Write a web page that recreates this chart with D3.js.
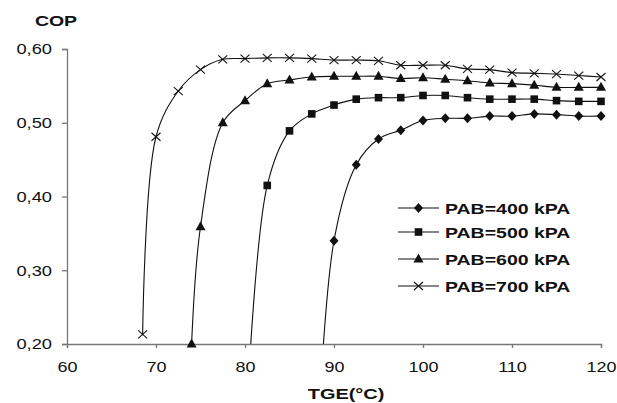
<!DOCTYPE html>
<html>
<head>
<meta charset="utf-8">
<title>COP vs TGE</title>
<style>
  body { margin: 0; background: #fff; }
  text { font-family: "Liberation Sans", Arial, sans-serif; fill: #111; }
</style>
</head>
<body>
<script src="https://d3js.org/d3.v7.min.js"></script>
<script>
// ---- data ----
var seriesNames = ["PAB=400 kPA", "PAB=500 kPA", "PAB=600 kPA", "PAB=700 kPA"];
var markerTypes = ["diamond", "square", "triangle", "cross"];

var tge400 = [88, 90, 92.5, 95, 97.5, 100, 102.5, 105, 107.5, 110, 112.5, 115, 117.5, 120];
var cop400 = [0.03, 0.340, 0.443, 0.478, 0.490, 0.503, 0.506, 0.506, 0.509, 0.509, 0.512, 0.511, 0.509, 0.509];

var tge500 = [80, 82.5, 85, 87.5, 90, 92.5, 95, 97.5, 100, 102.5, 105, 107.5, 110, 112.5, 115, 117.5, 120];
var cop500 = [0.06, 0.415, 0.489, 0.512, 0.524, 0.532, 0.534, 0.534, 0.537, 0.537, 0.534, 0.532, 0.532, 0.532, 0.530, 0.529, 0.529];

var tge600 = [74, 75, 77.5, 80, 82.5, 85, 87.5, 90, 92.5, 95, 97.5, 100, 102.5, 105, 107.5, 110, 112.5, 115, 117.5, 120];
var cop600 = [0.200, 0.359, 0.500, 0.530, 0.553, 0.558, 0.562, 0.563, 0.563, 0.563, 0.560, 0.561, 0.559, 0.557, 0.554, 0.553, 0.551, 0.548, 0.548, 0.548];

var tge700 = [68.5, 70, 72.5, 75, 77.5, 80, 82.5, 85, 87.5, 90, 92.5, 95, 97.5, 100, 102.5, 105, 107.5, 110, 112.5, 115, 117.5, 120];
var cop700 = [0.213, 0.481, 0.543, 0.572, 0.586, 0.587, 0.588, 0.588, 0.587, 0.585, 0.585, 0.584, 0.578, 0.578, 0.578, 0.573, 0.572, 0.568, 0.567, 0.566, 0.564, 0.562];

var xTicks = [60, 70, 80, 90, 100, 110, 120];
var yTicks = [0.2, 0.3, 0.4, 0.5, 0.6];
var yTickLabels = ["0,20", "0,30", "0,40", "0,50", "0,60"];

// ---- layout ----
var W = 617, H = 403;
var pLeft = 67, pRight = 601, pTop = 49, pBottom = 344;

var svg = d3.select("body").append("svg")
    .attr("width", W).attr("height", H);

var x = d3.scaleLinear().domain([60, 120]).range([pLeft, pRight]);
var y = d3.scaleLinear().domain([0.2, 0.6]).range([pBottom, pTop]);

svg.append("defs").append("clipPath").attr("id", "plot")
  .append("rect")
    .attr("x", pLeft).attr("y", pTop - 10)
    .attr("width", pRight - pLeft + 10).attr("height", pBottom - pTop + 10);

var axisColor = "#777";

// x axis
var gx = svg.append("g")
    .attr("transform", "translate(0," + pBottom + ")")
    .call(d3.axisBottom(x).tickValues(xTicks).tickSize(4).tickFormat(d3.format("d")));
gx.select(".domain").attr("stroke", axisColor).attr("stroke-width", 1.3);
gx.selectAll(".tick line").attr("stroke", axisColor).attr("stroke-width", 1.3);
gx.selectAll(".tick text")
    .attr("font-size", 15).attr("fill", "#111")
    .attr("y", 17).attr("dy", "0.71em")
    .attr("transform", "scale(1.2,1)")
    .style("font-family", "'Liberation Sans', Arial, sans-serif");

// y axis
var gy = svg.append("g")
    .attr("transform", "translate(" + pLeft + ",0)")
    .call(d3.axisLeft(y).tickValues(yTicks).tickSize(5)
      .tickFormat(function(d, i) { return yTickLabels[i]; }));
gy.select(".domain").attr("stroke", axisColor).attr("stroke-width", 1.3);
gy.selectAll(".tick line").attr("stroke", axisColor).attr("stroke-width", 1.3);
gy.selectAll(".tick text")
    .attr("font-size", 15).attr("fill", "#111")
    .attr("x", -15 / 1.22)
    .attr("transform", "scale(1.22,1)")
    .style("font-family", "'Liberation Sans', Arial, sans-serif");

// titles
svg.append("text")
    .attr("transform", "translate(56,26) scale(1.3,1)")
    .attr("text-anchor", "middle")
    .attr("font-size", 15).attr("font-weight", "bold")
    .text("COP");

svg.append("text")
    .attr("transform", "translate(346,399) scale(1.33,1)")
    .attr("text-anchor", "middle")
    .attr("font-size", 15).attr("font-weight", "bold")
    .text("TGE(°C)");

// ---- series ----
var series = [
  { tge: tge400, cop: cop400 },
  { tge: tge500, cop: cop500 },
  { tge: tge600, cop: cop600 },
  { tge: tge700, cop: cop700 }
];

var line = d3.line()
    .x(function(d) { return x(d[0]); })
    .y(function(d) { return y(d[1]); })
    .curve(d3.curveCatmullRom.alpha(0.5));

function drawMarker(g, type, cx, cy) {
  if (type === "diamond") {
    g.append("path").attr("d", "M" + cx + "," + (cy - 5) + "L" + (cx + 4.5) + "," + cy +
      "L" + cx + "," + (cy + 5) + "L" + (cx - 4.5) + "," + cy + "Z").attr("fill", "#111");
  } else if (type === "square") {
    g.append("rect").attr("x", cx - 3.8).attr("y", cy - 3.8)
      .attr("width", 7.6).attr("height", 7.6).attr("fill", "#111");
  } else if (type === "triangle") {
    g.append("path").attr("d", "M" + cx + "," + (cy - 5.5) + "L" + (cx + 5) + "," + (cy + 3.5) +
      "L" + (cx - 5) + "," + (cy + 3.5) + "Z").attr("fill", "#111");
  } else {
    g.append("path").attr("d", "M" + (cx - 4.5) + "," + (cy - 4) + "L" + (cx + 4.5) + "," + (cy + 4) +
      "M" + (cx - 4.5) + "," + (cy + 4) + "L" + (cx + 4.5) + "," + (cy - 4))
      .attr("stroke", "#111").attr("stroke-width", 1.1).attr("fill", "none");
  }
}

var plot = svg.append("g");
series.forEach(function(s, k) {
  var pts = s.tge.map(function(t, i) { return [t, s.cop[i]]; });
  plot.append("path")
      .attr("clip-path", "url(#plot)")
      .attr("d", line(pts))
      .attr("fill", "none")
      .attr("stroke", "#111")
      .attr("stroke-width", 1.1);
  var mg = plot.append("g");
  pts.forEach(function(p) {
    if (p[1] >= 0.2) drawMarker(mg, markerTypes[k], x(p[0]), y(p[1]));
  });
});

// ---- legend ----
var legendY = [208, 232, 259, 286];
var leg = svg.append("g");
seriesNames.forEach(function(name, k) {
  var ly = legendY[k];
  leg.append("line")
      .attr("x1", 398).attr("x2", 439).attr("y1", ly).attr("y2", ly)
      .attr("stroke", "#111").attr("stroke-width", 1.1);
  drawMarker(leg, markerTypes[k], 418.5, ly);
  leg.append("text")
      .attr("transform", "translate(445," + (ly + 5.5) + ") scale(1.3,1)")
      .attr("font-size", 15).attr("font-weight", "bold")
      .text(name);
});
</script>
</body>
</html>
